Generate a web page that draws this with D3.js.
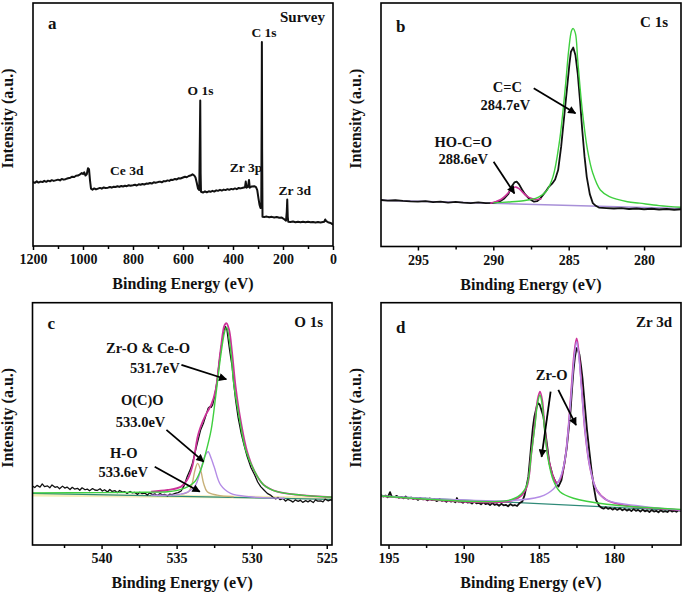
<!DOCTYPE html>
<html><head><meta charset="utf-8">
<script src="https://cdn.jsdelivr.net/npm/d3@7"></script>
<style>
body{margin:0;background:#fff}
svg{display:block}
text{font-family:"Liberation Serif","DejaVu Serif",serif;font-weight:bold;fill:#111}
</style>
</head><body>
<svg id="fig" width="685" height="594" font-family="Liberation Serif, DejaVu Serif, serif"></svg>
<script>
// ---------------- DATA (binding energy eV, intensity in % of panel height) ----------------
const surveyTicks = [1200,1000,800,600,400,200,0];
const surveyMinor = [1100,900,700,500,300,100];
const survey = [[1200,26.4],[1193,26.0],[1185,26.6],[1178,26.1],[1170,26.5],[1162,26.3],[1155,26.8],[1147,26.4],[1140,26.9],[1132,26.6],[1125,27.1],[1117,26.8],[1110,27.0],[1100,27.3],[1092,27.0],[1085,27.6],[1077,27.3],[1070,27.5],[1060,27.9],[1050,28.1],[1043,28.5],[1035,28.4],[1028,28.9],[1020,29.0],[1012,29.5],[1005,30.0],[1000,29.6],[995,30.3],[990,29.0],[985,29.5],[980,32.0],[976,31.6],[972,27.0],[968,23.6],[962,23.2],[955,23.7],[948,23.3],[940,23.6],[932,23.9],[925,23.6],[917,24.1],[910,23.9],[900,24.0],[892,24.3],[885,24.0],[877,24.4],[870,24.3],[862,24.6],[855,24.3],[847,24.7],[840,24.5],[832,24.8],[825,24.6],[817,25.0],[810,24.8],[800,25.0],[792,25.2],[785,24.9],[777,25.4],[770,25.2],[762,25.5],[755,25.3],[747,25.7],[740,25.6],[732,25.9],[725,25.7],[717,26.2],[710,26.0],[700,26.3],[692,26.5],[685,26.2],[677,26.7],[670,26.6],[662,27.0],[655,26.8],[647,27.3],[640,27.2],[632,27.6],[625,27.4],[617,27.9],[610,27.8],[600,28.2],[592,28.5],[585,28.3],[577,28.8],[570,29.0],[562,29.5],[555,29.0],[550,28.2],[545,26.0],[540,23.6],[535,23.0],[532.5,45.0],[531,59.9],[529.5,30.0],[528,22.3],[520,22.0],[512,22.5],[505,22.1],[497,22.5],[490,22.3],[482,22.7],[475,22.4],[467,22.9],[460,22.7],[452,23.1],[445,22.8],[437,23.2],[430,23.0],[422,23.4],[415,23.1],[407,23.5],[400,23.3],[392,23.7],[385,23.4],[377,23.9],[370,23.7],[360,24.0],[352,24.2],[349,26.5],[346,24.0],[340,24.3],[336,27.2],[333,24.0],[325,24.5],[315,24.6],[308,24.2],[303,23.0],[298,19.5],[294,17.0],[290,15.6],[287,15.8],[285.5,50.0],[284.5,84.0],[283.5,40.0],[282,12.0],[275,11.9],[265,12.1],[255,11.8],[245,12.0],[235,11.7],[225,11.9],[215,11.6],[205,11.7],[195,11.0],[188,10.4],[185,14.0],[183,19.1],[181,12.0],[179,10.0],[170,9.9],[160,10.1],[150,9.8],[140,10.0],[130,9.8],[120,10.0],[110,9.8],[100,10.0],[90,9.8],[80,9.9],[70,9.7],[60,9.9],[50,9.7],[40,9.9],[35,10.0],[31,10.9],[27,10.2],[20,9.8],[10,9.5],[0,8.8]];

const c1sTicks = [295,290,285,280];
const c1sMinor = [292.5,287.5,282.5];
const c1sRaw = [[297.45,19.1],[297,18.8],[296.5,19.0],[296,18.7],[295.5,18.5],[295,18.4],[294.5,18.6],[294,18.2],[293.5,18.4],[293,18.0],[292.5,18.3],[292,18.0],[291.5,17.8],[291,18.1],[290.5,17.8],[290,17.9],[289.6,18.4],[289.3,19.6],[289.0,21.6],[288.8,24.5],[288.6,26.3],[288.45,26.6],[288.3,25.6],[288.1,23.4],[287.9,21.5],[287.6,19.5],[287.3,18.4],[287.1,18.6],[286.9,19.6],[286.7,21.2],[286.5,22.8],[286.3,24.6],[286.1,25.8],[285.9,27.5],[285.7,31.4],[285.5,41.0],[285.3,53.3],[285.1,65.6],[284.95,75.0],[284.85,80.0],[284.7,81.7],[284.55,78.5],[284.4,71.0],[284.25,60.0],[284.1,47.8],[283.95,37.0],[283.8,28.5],[283.6,21.5],[283.4,17.8],[283.2,16.7],[283.0,16.0],[282.5,15.8],[282,15.6],[281.5,15.8],[281,15.4],[280.5,15.6],[280,15.3],[279.5,15.5],[279,15.2],[278.5,15.4],[278,15.1],[277.55,15.3]];
const c1sCC = [[290.0,17.9],[289.0,18.3],[288.0,18.8],[287.5,19.3],[287.0,20.3],[286.5,22.6],[286.04,28.7],[285.6,43.7],[285.2,66.9],[285.0,80.6],[284.8,88.8],[284.7,89.5],[284.55,87.4],[284.4,76.5],[284.1,56.0],[283.75,39.6],[283.4,30.1],[282.9,23.2],[282.3,20.5],[281.1,18.4],[280.3,17.8],[279,16.8],[277.55,16.1]];
const c1sCOOH = [[290.2,17.8],[289.8,18.5],[289.5,19.3],[289.2,20.8],[288.9,22.8],[288.65,24.2],[288.5,24.4],[288.3,23.8],[288.05,22.2],[287.8,20.8],[287.5,19.8],[287.1,19.3],[286.8,19.7]];
const c1sBase = [[297.45,19.0],[277.55,15.6]];

const o1sTicks = [540,535,530,525];
const o1sMinor = [542.5,537.5,532.5,527.5];
const o1sRaw = [[544.6,24.3],[544.45,23.7],[544.3,24.6],[544.1,23.9],[543.95,25.2],[543.8,24.1],[543.6,24.4],[543.45,23.6],[543.3,24.8],[543.1,23.8],[542.95,24.1],[542.8,23.2],[542.6,24.3],[542.45,23.5],[542.3,23.9],[542.1,22.9],[541.95,23.8],[541.8,23.1],[541.6,23.4],[541.45,22.6],[541.3,23.6],[541.1,22.8],[540.95,23.1],[540.8,22.4],[540.6,23.3],[540.45,22.7],[540.3,22.5],[540.1,23.2],[539.95,22.3],[539.8,22.8],[539.6,21.9],[539.45,22.9],[539.3,22.1],[539.1,22.4],[538.95,21.6],[538.8,22.5],[538.6,21.8],[538.45,22.0],[538.3,21.3],[538.1,22.1],[537.95,21.5],[537.8,21.7],[537.6,20.9],[537.45,21.8],[537.3,21.2],[537.1,21.4],[536.95,20.6],[536.8,21.5],[536.6,20.8],[536.45,21.1],[536.3,20.4],[536.1,21.2],[535.95,20.7],[535.8,20.9],[535.6,20.3],[535.45,21.0],[535.3,20.8],[535.1,21.3],[534.9,21.6],[534.7,22.3],[534.5,24.5],[534.3,28.2],[534.1,31.0],[533.95,33.7],[533.8,37.5],[533.6,42.6],[533.4,47.5],[533.2,50.5],[533.07,53.0],[532.9,56.5],[532.8,57.1],[532.7,56.8],[532.6,57.8],[532.5,60.5],[532.4,64.0],[532.3,68.0],[532.2,73.6],[532.1,78.5],[531.96,84.6],[531.85,88.5],[531.75,90.1],[531.65,89.0],[531.55,84.0],[531.45,79.5],[531.3,73.6],[531.2,67.0],[531.07,59.8],[530.9,52.5],[530.7,46.1],[530.5,41.0],[530.3,36.5],[530.05,32.0],[529.8,28.9],[529.6,26.0],[529.4,24.1],[529.2,22.8],[528.96,21.3],[528.75,20.6],[528.6,19.8],[528.4,19.0],[528.25,19.6],[528.1,18.7],[527.9,19.2],[527.75,18.1],[527.6,18.8],[527.4,18.3],[527.25,17.7],[527.1,18.6],[526.9,18.0],[526.75,18.5],[526.6,17.6],[526.4,18.3],[526.25,17.8],[526.1,18.4],[525.9,17.5],[525.75,18.6],[525.6,18.1],[525.4,18.2],[525.25,17.8],[525.1,18.9],[524.9,18.2],[524.75,18.6],[524.65,18.4]];
const o1sSum = [[536.7,22.0],[535.6,22.7],[534.7,24.1],[534.3,26.8],[533.96,32.3],[533.6,44.7],[533.4,48.8],[533.07,53.6],[532.7,57.8],[532.4,64.0],[532.07,80.5],[531.8,90.8],[531.67,91.5],[531.5,88.7],[531.3,79.1],[531.07,65.3],[530.7,50.2],[530.3,38.5],[529.8,30.3],[529.2,24.8],[528.3,22.0],[526.7,20.6],[524.65,19.7]];
const o1sMO = [[544.6,21.5],[540,21.6],[537,21.8],[535.6,22.0],[534.5,23.4],[533.8,26.1],[533.4,30.9],[533.07,37.8],[532.7,47.5],[532.4,61.2],[532.07,77.7],[531.8,88.0],[531.67,89.8],[531.4,80.5],[531.2,66.7],[530.8,51.6],[530.4,39.2],[529.8,30.3],[529.2,24.8],[528.3,22.0],[526.7,20.6],[524.65,19.7]];
const o1sOCO = [[536.7,20.6],[534.5,21.3],[533.8,24.1],[533.4,30.9],[533.13,36.5],[532.9,38.5],[532.7,35.8],[532.5,32.3],[532.07,24.8],[531.4,21.3],[530.07,19.9],[527.8,19.3]];
const o1sOH = [[534.7,21.0],[534.2,22.0],[533.96,25.4],[533.8,30.3],[533.6,33.7],[533.4,30.9],[533.2,25.4],[532.96,22.0],[532.3,20.6],[531.2,19.9]];
const o1sBase = [[544.6,21.3],[524.65,18.8]];
const o1sBand = [[544.6,20.6],[524.65,19.4]];

const zrTicks = [195,190,185,180];
const zrMinor = [192.5,187.5,182.5,177.5];
const zrRaw = [[195.5,20.6],[195.35,20.0],[195.2,20.4],[195.05,19.7],[194.9,21.8],[194.8,20.1],[194.6,19.8],[194.45,20.3],[194.3,19.5],[194.15,19.9],[194.0,19.3],[193.85,20.0],[193.7,19.1],[193.5,19.6],[193.35,19.0],[193.2,19.4],[193.05,18.6],[192.9,19.3],[192.7,18.8],[192.55,19.1],[192.4,18.4],[192.25,19.2],[192.1,18.5],[191.95,18.8],[191.8,18.1],[191.6,18.9],[191.45,18.2],[191.3,18.5],[191.15,17.8],[191.0,18.6],[190.85,17.9],[190.7,18.2],[190.55,17.6],[190.45,19.4],[190.35,17.9],[190.2,18.0],[190.05,17.4],[189.9,18.1],[189.75,17.5],[189.6,17.7],[189.45,17.1],[189.3,17.9],[189.15,17.2],[189.0,17.4],[188.85,16.8],[188.7,17.6],[188.55,16.9],[188.4,17.2],[188.25,16.5],[188.1,17.3],[187.95,16.6],[187.8,16.9],[187.65,16.2],[187.5,17.0],[187.35,16.4],[187.2,16.6],[187.05,16.0],[186.9,16.9],[186.75,16.3],[186.6,16.5],[186.45,16.1],[186.3,17.2],[186.1,18.0],[185.95,20.6],[185.8,25.0],[185.7,28.2],[185.6,35.0],[185.5,42.0],[185.4,48.5],[185.3,53.0],[185.15,57.0],[185.05,58.5],[184.95,58.0],[184.85,56.0],[184.7,53.0],[184.5,43.3],[184.3,33.7],[184.1,29.0],[183.9,26.1],[183.7,24.1],[183.5,26.8],[183.3,33.7],[183.15,40.0],[183.05,46.1],[182.9,55.0],[182.8,64.0],[182.7,72.0],[182.6,77.7],[182.5,81.2],[182.4,80.5],[182.3,78.5],[182.2,74.0],[182.1,68.8],[181.95,58.0],[181.8,47.5],[181.65,39.0],[181.5,30.9],[181.35,24.0],[181.2,18.6],[181.0,16.2],[180.85,15.4],[180.7,15.0],[180.55,15.6],[180.4,14.9],[180.25,15.3],[180.1,14.6],[179.95,15.2],[179.8,14.5],[179.6,15.1],[179.45,14.3],[179.3,14.9],[179.15,14.2],[179.0,14.7],[178.85,14.0],[178.7,14.8],[178.55,14.1],[178.4,14.5],[178.25,13.8],[178.1,14.6],[177.95,13.9],[177.8,14.3],[177.65,13.6],[177.5,14.4],[177.35,13.8],[177.2,14.1],[177.05,13.5],[176.9,14.3],[176.75,13.7],[176.6,14.0],[176.45,13.6],[176.3,14.4],[176.15,13.8],[176.0,14.2],[175.85,13.7],[175.7,14.4],[175.55,14.1]];
const zrSum = [[195.5,20.2],[187.15,17.9],[186.26,19.9],[185.8,24.1],[185.5,37.8],[185.27,50.2],[185.09,59.8],[184.93,63.3],[184.78,59.8],[184.6,47.5],[184.38,36.5],[184.05,28.2],[183.83,25.7],[183.56,27.5],[183.27,35.1],[183.05,47.5],[182.83,65.3],[182.65,79.1],[182.49,85.3],[182.34,79.1],[182.16,65.3],[181.94,47.5],[181.61,32.3],[181.16,22.7],[180.5,18.6],[179.39,16.5],[177.17,15.1],[175.55,14.4]];
const zr52 = [[195.5,20.2],[187.15,18.3],[186.26,20.6],[185.8,24.8],[185.5,37.8],[185.27,48.8],[185.09,58.5],[184.93,61.9],[184.78,57.8],[184.6,46.1],[184.38,35.1],[184.05,26.8],[183.6,22.0],[182.7,19.3],[180.5,16.8],[175.55,14.7]];
const zr32 = [[195.5,20.2],[187.15,18.3],[184.93,19.9],[184.05,23.0],[183.6,27.5],[183.27,35.1],[183.05,47.5],[182.83,64.0],[182.65,77.7],[182.49,83.9],[182.34,77.7],[182.16,64.0],[181.94,47.5],[181.61,32.3],[181.16,22.7],[180.5,18.6],[178.3,16.1],[175.55,14.4]];
const zrBase = [[195.5,20.2],[175.55,14.2]];

// ---------------- DRAWING ----------------
const FONT = "Liberation Serif, DejaVu Serif, serif";
const svg = d3.select("#fig");
const defs = svg.append("defs");
defs.append("marker").attr("id","arr").attr("viewBox","0 0 10 10")
  .attr("refX",9).attr("refY",5).attr("markerWidth",10).attr("markerHeight",8)
  .attr("markerUnits","userSpaceOnUse").attr("orient","auto")
  .append("path").attr("d","M0,0 L10,5 L0,10 z").attr("fill","#000");

const COL = {raw:"#111", green:"#3fcf3f", pink:"#cc3399", purple:"#b48ce6", tan:"#c8b078", teal:"#2f8a78", band:"#f4eeb8", base:"#a890d8"};

function panel(cfg){
  const {box, domain, ticks, minor} = cfg;
  const g = svg.append("g").attr("font-family",FONT).attr("font-weight","bold");
  const x = d3.scaleLinear().domain(domain).range([box.l, box.r]);
  const y = d3.scaleLinear().domain([0,100]).range([box.b, box.t]);
  const clipId = "clip"+cfg.letter;
  defs.append("clipPath").attr("id",clipId).append("rect")
    .attr("x",box.l).attr("y",box.t).attr("width",box.r-box.l).attr("height",box.b-box.t);
  const plot = g.append("g").attr("clip-path",`url(#${clipId})`);
  const lineLin = d3.line().x(d=>x(d[0])).y(d=>y(d[1]));
  const lineSm = d3.line().x(d=>x(d[0])).y(d=>y(d[1])).curve(d3.curveCatmullRom.alpha(0.5));
  cfg.series.forEach(s=>{
    plot.append("path").datum(s.data).attr("fill","none")
      .attr("stroke",s.color).attr("stroke-width",s.w)
      .attr("stroke-linejoin","round")
      .attr("d", s.smooth ? lineSm : lineLin);
  });
  const ax = g.append("g").attr("transform",`translate(0,${box.b})`)
    .call(d3.axisBottom(x).tickValues(ticks).tickSize(4).tickSizeOuter(0).tickFormat(d3.format("d")));
  ax.attr("font-family",FONT);
  ax.select(".domain").remove();
  ax.selectAll("line").attr("stroke","#000").attr("stroke-width",1.5);
  ax.selectAll("text").attr("font-size",14).attr("font-weight","bold").attr("dy",0).attr("y",18).attr("fill","#111");
  const axm = g.append("g").attr("transform",`translate(0,${box.b})`)
    .call(d3.axisBottom(x).tickValues(minor).tickSize(3).tickSizeOuter(0).tickFormat(""));
  axm.select(".domain").remove();
  axm.selectAll("line").attr("stroke","#000").attr("stroke-width",1.5);
  g.append("rect").attr("x",box.l).attr("y",box.t).attr("width",box.r-box.l).attr("height",box.b-box.t)
    .attr("fill","none").attr("stroke","#000").attr("stroke-width",1.6);
  g.append("text").attr("x",(box.l+box.r)/2).attr("y",box.b+43).attr("text-anchor","middle")
    .attr("font-size",16).text("Binding Energy (eV)");
  g.append("text").attr("transform",`translate(${box.l-20},${(box.t+box.b)/2-6}) rotate(-90)`)
    .attr("text-anchor","middle").attr("font-size",16).text("Intensity (a.u.)");
  g.append("text").attr("x",box.l+15).attr("y",box.t+cfg.letterDy).attr("font-size",17).text(cfg.letter);
  g.append("text").attr("x",box.r-cfg.titleDx).attr("y",box.t+cfg.titleDy).attr("text-anchor","end")
    .attr("font-size",15).text(cfg.title);
  (cfg.labels||[]).forEach(l=>{
    g.append("text").attr("x",x(l[0])).attr("y",y(l[1])).attr("text-anchor","middle")
      .attr("font-size",l[3]||14.5).text(l[2]);
  });
  (cfg.arrows||[]).forEach(a=>{
    g.append("line").attr("x1",x(a[0])).attr("y1",y(a[1])).attr("x2",x(a[2])).attr("y2",y(a[3]))
      .attr("stroke","#000").attr("stroke-width",1.8).attr("marker-end","url(#arr)");
  });
}

panel({letter:"a", title:"Survey", letterDy:26, titleDx:8, titleDy:19,
  box:{l:33,r:333,t:3,b:246}, domain:[1200,0], ticks:surveyTicks, minor:surveyMinor,
  series:[{data:survey,color:COL.raw,w:2}],
  labels:[[530,62.1,"O 1s",13.5],[276,86.0,"C 1s",13.5],[825,29.2,"Ce 3d",13.5],[348,30.5,"Zr 3p",13.5],[153,21.0,"Zr 3d",13.5]]
});

panel({letter:"b", title:"C 1s", letterDy:29, titleDx:13, titleDy:24,
  box:{l:381,r:681,t:3,b:246.5}, domain:[297.45,277.55], ticks:c1sTicks, minor:c1sMinor,
  series:[
    {data:c1sBase,color:COL.base,w:1.5},
    {data:c1sRaw,color:COL.raw,w:1.8},
    {data:c1sCOOH,color:COL.pink,w:1.6,smooth:true},
    {data:c1sCC,color:COL.green,w:1.4,smooth:true}
  ],
  labels:[[289.07,63.5,"C=C"],[289.2,56.1,"284.7eV"],[291.99,40.9,"HO-C=O"],[292.0,33.8,"288.6eV"]],
  arrows:[[287.32,65.0,284.55,54.7],[289.98,34.8,288.6,21.8]]
});

panel({letter:"c", title:"O 1s", letterDy:26, titleDx:9, titleDy:24,
  box:{l:32.5,r:332,t:302.7,b:545}, domain:[544.6,524.65], ticks:o1sTicks, minor:o1sMinor,
  series:[
    {data:o1sBand,color:COL.band,w:3},
    {data:o1sBase,color:COL.teal,w:1.2},
    {data:o1sRaw,color:COL.raw,w:1.3},
    {data:o1sOH,color:COL.tan,w:1.4,smooth:true},
    {data:o1sOCO,color:COL.purple,w:1.4,smooth:true},
    {data:o1sSum,color:COL.pink,w:1.8,smooth:true},
    {data:o1sMO,color:COL.green,w:1.4,smooth:true}
  ],
  labels:[[536.9,79.1,"Zr-O & Ce-O"],[536.45,70.9,"531.7eV"],[537.29,57.8,"O(C)O"],[537.4,48.8,"533.0eV"],[538.52,35.8,"H-O"],[538.56,28.2,"533.6eV"]],
  arrows:[[534.68,74.3,531.69,68.4],[535.68,47.5,533.2,34.4],[536.46,32.3,533.46,22.0]]
});

panel({letter:"d", title:"Zr 3d", letterDy:30, titleDx:9, titleDy:24,
  box:{l:381,r:681,t:302.7,b:545}, domain:[195.5,175.55], ticks:zrTicks, minor:zrMinor,
  series:[
    {data:zrBase,color:COL.teal,w:1.2},
    {data:zrRaw,color:COL.raw,w:1.8},
    {data:zrSum,color:COL.pink,w:1.8,smooth:true},
    {data:zr32,color:COL.purple,w:1.4,smooth:true},
    {data:zr52,color:COL.green,w:1.4,smooth:true}
  ],
  labels:[[184.15,68.1,"Zr-O"]],
  arrows:[[184.22,63.3,184.82,36.4],[183.71,64.0,182.53,49.5]]
});
</script>
</body></html>
